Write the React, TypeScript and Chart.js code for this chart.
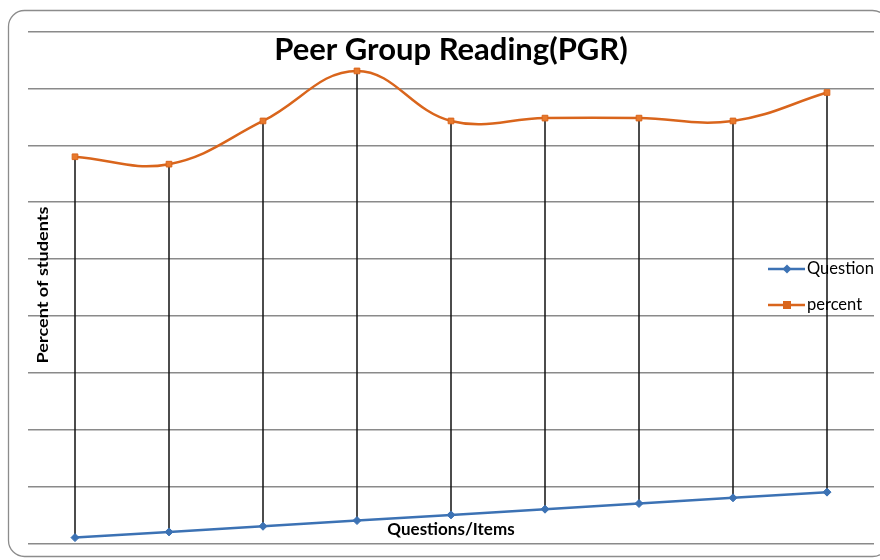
import React, { useEffect, useRef } from "react";
import { Chart, registerables } from "chart.js";

Chart.register(...registerables);

const categories = ["1", "2", "3", "4", "5", "6", "7", "8", "9"];
const questionValues = [1, 2, 3, 4, 5, 6, 7, 8, 9];
const percentValues = [68, 66.7, 74.3, 83.1, 74.3, 74.8, 74.8, 74.3, 79.3];
const yMin = 0;
const yMax = 90;
const yStep = 10;

const titleText = "Peer Group Reading(PGR)";
const xTitle = "Questions/Items";
const yTitle = "Percent of students";

const BLUE = "#3c72b4";
const ORANGE = "#d9651c";
const FONT = "Lato, 'Open Sans', sans-serif";

const decorPlugin = {
  id: "decor",
  beforeDraw(chart: any) {
    const ctx = chart.ctx;
    ctx.save();
    ctx.fillStyle = "#fff";
    ctx.fillRect(0, 0, chart.width, chart.height);
    const x = 8.5, y = 10.5, w = 880, h = 546, r = 16;
    ctx.beginPath();
    ctx.moveTo(x + r, y);
    ctx.lineTo(x + w - r, y);
    ctx.arcTo(x + w, y, x + w, y + r, r);
    ctx.lineTo(x + w, y + h - r);
    ctx.arcTo(x + w, y + h, x + w - r, y + h, r);
    ctx.lineTo(x + r, y + h);
    ctx.arcTo(x, y + h, x, y + h - r, r);
    ctx.lineTo(x, y + r);
    ctx.arcTo(x, y, x + r, y, r);
    ctx.closePath();
    ctx.strokeStyle = "#8c8c8c";
    ctx.lineWidth = 1.3;
    ctx.stroke();
    ctx.restore();
  },
  beforeDatasetsDraw(chart: any) {
    const ctx = chart.ctx;
    const xs = chart.scales.x;
    const ys = chart.scales.y;
    ctx.save();
    ctx.strokeStyle = "#111";
    ctx.lineWidth = 1.5;
    categories.forEach((_, i) => {
      const px = xs.getPixelForValue(i);
      ctx.beginPath();
      ctx.moveTo(px, ys.getPixelForValue(percentValues[i]));
      ctx.lineTo(px, ys.getPixelForValue(questionValues[i]));
      ctx.stroke();
    });
    ctx.restore();
  },
  afterDatasetsDraw(chart: any) {
    const ctx = chart.ctx;
    const area = chart.chartArea;
    ctx.save();
    ctx.fillStyle = "#000";
    ctx.font = `bold 31px ${FONT}`;
    ctx.textAlign = "center";
    ctx.textBaseline = "middle";
    ctx.fillText(titleText, (area.left + area.right) / 2, 50);
    ctx.font = `bold 17px ${FONT}`;
    ctx.fillText(xTitle, (area.left + area.right) / 2, 530);
    ctx.save();
    ctx.translate(43, 285);
    ctx.rotate(-Math.PI / 2);
    ctx.scale(1.13, 1);
    ctx.font = `bold 16px ${FONT}`;
    ctx.fillText(yTitle, 0, 0);
    ctx.restore();
    const items = [
      { label: "Question", color: BLUE, style: "rectRot", y: 269 },
      { label: "percent", color: ORANGE, style: "rect", y: 305 },
    ];
    ctx.font = `16.5px ${FONT}`;
    ctx.textAlign = "left";
    items.forEach((it) => {
      ctx.strokeStyle = it.color;
      ctx.lineWidth = 2.5;
      ctx.beginPath();
      ctx.moveTo(768, it.y);
      ctx.lineTo(805, it.y);
      ctx.stroke();
      ctx.fillStyle = it.color;
      if (it.style === "rect") {
        ctx.fillRect(783, it.y - 4, 8, 8);
      } else {
        ctx.beginPath();
        ctx.moveTo(787, it.y - 4.5);
        ctx.lineTo(791.5, it.y);
        ctx.lineTo(787, it.y + 4.5);
        ctx.lineTo(782.5, it.y);
        ctx.closePath();
        ctx.fill();
      }
      ctx.fillStyle = "#000";
      ctx.fillText(it.label, 807, it.y);
    });
    ctx.restore();
  },
};

export default function App() {
  const ref = useRef<HTMLCanvasElement>(null);
  useEffect(() => {
    if (!ref.current) return;
    const chart = new Chart(ref.current, {
      type: "line",
      data: {
        labels: categories,
        datasets: [
          {
            label: "Question",
            data: questionValues,
            borderColor: BLUE,
            backgroundColor: BLUE,
            borderWidth: 2.5,
            pointStyle: "rectRot",
            pointRadius: 4,
            pointBorderWidth: 1,
            tension: 0,
          },
          {
            label: "percent",
            data: percentValues,
            borderColor: ORANGE,
            backgroundColor: "#e8792c",
            pointBorderColor: ORANGE,
            borderWidth: 2.5,
            pointStyle: "rect",
            pointRadius: 4,
            pointBorderWidth: 1,
            tension: 0.4,
          },
        ],
      },
      options: {
        animation: false,
        responsive: false,
        maintainAspectRatio: false,
        layout: { padding: { left: 28, right: 6, top: 31.7, bottom: 16.7 } },
        plugins: { legend: { display: false }, title: { display: false }, tooltip: { enabled: false } },
        scales: {
          x: { type: "category", offset: true, display: false },
          y: {
            min: yMin,
            max: yMax,
            ticks: { display: false, stepSize: yStep },
            grid: { color: "#8a8a8a", lineWidth: 1.5, drawTicks: false },
            border: { display: false },
          },
        },
      },
      plugins: [decorPlugin],
    });
    return () => chart.destroy();
  }, []);
  return (
    <div style={{ position: "fixed", left: 0, top: 0, width: 880, height: 560 }}>
      <canvas ref={ref} width={880} height={560} style={{ width: 880, height: 560 }} />
    </div>
  );
}
